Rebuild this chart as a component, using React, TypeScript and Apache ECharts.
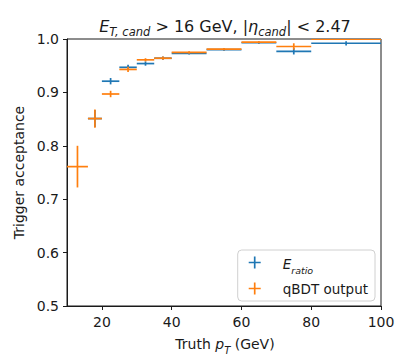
import React, { useEffect, useRef } from "react";
import * as echarts from "echarts";

const binLow = [10, 16, 20, 25, 30, 35, 40, 50, 60, 70, 80];
const binHigh = [16, 20, 25, 30, 35, 40, 50, 60, 70, 80, 100];
const ratioVals = [null, 0.851, 0.921, 0.947, 0.954, 0.964, 0.973, 0.98, 0.993, 0.977, 0.992];
const ratioErrs = [null, 0.016, 0.006, 0.005, 0.004, 0.003, 0.002, 0.002, 0.002, 0.006, 0.004];
const bdtVals = [0.761, 0.851, 0.897, 0.943, 0.961, 0.964, 0.975, 0.981, 0.994, 0.986, 0.9995];
const bdtErrs = [0.039, 0.017, 0.006, 0.005, 0.003, 0.003, 0.002, 0.002, 0.002, 0.006, 0.001];
const xTicks = [20, 40, 60, 80, 100];

const BLUE = "#1f77b4";
const ORANGE = "#ff7f0e";
const FONT = "DejaVu Sans";
const INK = "#1a1a1a";

function makeData(vals: (number | null)[], errs: (number | null)[]) {
  return vals
    .map((v, i) => (v === null ? null : [binLow[i], binHigh[i], v, errs[i]]))
    .filter((d) => d !== null);
}

function renderErr(color: string) {
  return (params: any, api: any) => {
    const lo = api.value(0);
    const hi = api.value(1);
    const v = api.value(2);
    const e = api.value(3);
    const mid = (lo + hi) / 2;
    const a = api.coord([lo, v]);
    const b = api.coord([hi, v]);
    const c = api.coord([mid, v + e]);
    const d = api.coord([mid, v - e]);
    const style = { stroke: color, lineWidth: 1.7 };
    return {
      type: "group",
      children: [
        { type: "line", shape: { x1: a[0], y1: a[1], x2: b[0], y2: b[1] }, style },
        { type: "line", shape: { x1: c[0], y1: c[1], x2: d[0], y2: d[1] }, style },
      ],
    };
  };
}

const plusIcon = "path://M4.3,0H5.7V4.3H10V5.7H5.7V10H4.3V5.7H0V4.3H4.3Z";

export default function App() {
  const ref = useRef<HTMLDivElement>(null);
  useEffect(() => {
    const chart = echarts.init(ref.current!, null, { renderer: "svg" });
    chart.setOption({
      animation: false,
      textStyle: { fontFamily: FONT },
      graphic: [
        {
          type: "text",
          x: 225,
          y: 23,
          style: {
            text: "{i|E}{s|T, cand}{n| > 16 GeV, |}{i|η}{s|cand}{n|| < 2.47}",
            textAlign: "center",
            textVerticalAlign: "middle",
            fill: INK,
            rich: {
              n: { fontSize: 16, fontFamily: FONT, fill: INK, lineHeight: 22, verticalAlign: "bottom" },
              i: { fontSize: 16, fontFamily: FONT, fontStyle: "italic", fill: INK, lineHeight: 22, verticalAlign: "bottom" },
              s: { fontSize: 11.5, fontFamily: FONT, fontStyle: "italic", fill: INK, lineHeight: 22, verticalAlign: "bottom", padding: [0, 0, -4, 0] },
            },
          },
        },
        {
          type: "text",
          x: 225,
          y: 342,
          style: {
            text: "{n|Truth }{i|p}{s|T}{n| (GeV)}",
            textAlign: "center",
            textVerticalAlign: "middle",
            fill: INK,
            rich: {
              n: { fontSize: 14, fontFamily: FONT, fill: INK, lineHeight: 18, verticalAlign: "bottom" },
              i: { fontSize: 14, fontFamily: FONT, fontStyle: "italic", fill: INK, lineHeight: 18, verticalAlign: "bottom" },
              s: { fontSize: 10, fontFamily: FONT, fontStyle: "italic", fill: INK, lineHeight: 18, verticalAlign: "bottom", padding: [0, 0, -4, 0] },
            },
          },
        },
      ],
      grid: {
        left: 67,
        right: 17,
        top: 39,
        bottom: 48,
        show: true,
        borderColor: INK,
        borderWidth: 1,
        backgroundColor: "transparent",
      },
      legend: {
        orient: "vertical",
        right: 23,
        bottom: 53,
        padding: [4, 7, 4, 11],
        itemGap: 5,
        itemWidth: 12,
        itemHeight: 12,
        borderColor: "#d0d0d0",
        borderWidth: 1,
        borderRadius: 4,
        backgroundColor: "rgba(255,255,255,0.85)",
        data: [
          { name: "E_ratio", icon: plusIcon, itemStyle: { color: BLUE } },
          { name: "qBDT output", icon: plusIcon, itemStyle: { color: ORANGE } },
        ],
        formatter: (name: string) => (name === "E_ratio" ? "{i|E}{s|ratio}" : "{n|qBDT output}"),
        textStyle: {
          fontFamily: FONT,
          fontSize: 13.5,
          color: INK,
          padding: [0, 0, 0, 17],
          lineHeight: 17,
          rich: {
            n: { fontSize: 13.5, fontFamily: FONT, color: INK, lineHeight: 17 },
            i: { fontSize: 13.5, fontFamily: FONT, fontStyle: "italic", color: INK, verticalAlign: "bottom", lineHeight: 17 },
            s: { fontSize: 9.5, fontFamily: FONT, fontStyle: "italic", color: INK, verticalAlign: "bottom", lineHeight: 17, padding: [0, 0, -4, 0] },
          },
        },
      },
      xAxis: {
        type: "value",
        min: 10,
        max: 100,
        axisLine: { show: true, lineStyle: { color: INK, width: 1 } },
        axisTick: { show: true, length: 4, lineStyle: { color: INK }, customValues: xTicks },
        axisLabel: { fontSize: 14, color: INK, fontFamily: FONT, margin: 9, customValues: xTicks },
        splitLine: { show: false },
      },
      yAxis: {
        type: "value",
        min: 0.5,
        max: 1.0,
        interval: 0.1,
        name: "Trigger acceptance",
        nameLocation: "middle",
        nameGap: 38,
        nameTextStyle: { fontSize: 14, fontFamily: FONT, color: INK },
        axisLine: { show: true, lineStyle: { color: INK, width: 1 } },
        axisTick: { show: true, length: 4, lineStyle: { color: INK } },
        axisLabel: {
          fontSize: 14,
          color: INK,
          fontFamily: FONT,
          margin: 8,
          formatter: (v: number) => v.toFixed(1),
        },
        splitLine: { show: false },
      },
      series: [
        {
          name: "E_ratio",
          type: "custom",
          renderItem: renderErr(BLUE),
          itemStyle: { color: BLUE },
          encode: { x: [0, 1], y: 2 },
          data: makeData(ratioVals, ratioErrs),
          clip: true,
        },
        {
          name: "qBDT output",
          type: "custom",
          renderItem: renderErr(ORANGE),
          itemStyle: { color: ORANGE },
          encode: { x: [0, 1], y: 2 },
          data: makeData(bdtVals, bdtErrs),
          clip: true,
        },
      ],
    });
    return () => chart.dispose();
  }, []);
  return <div ref={ref} style={{ position: "absolute", left: 0, top: 0, width: 398, height: 354 }} />;
}
